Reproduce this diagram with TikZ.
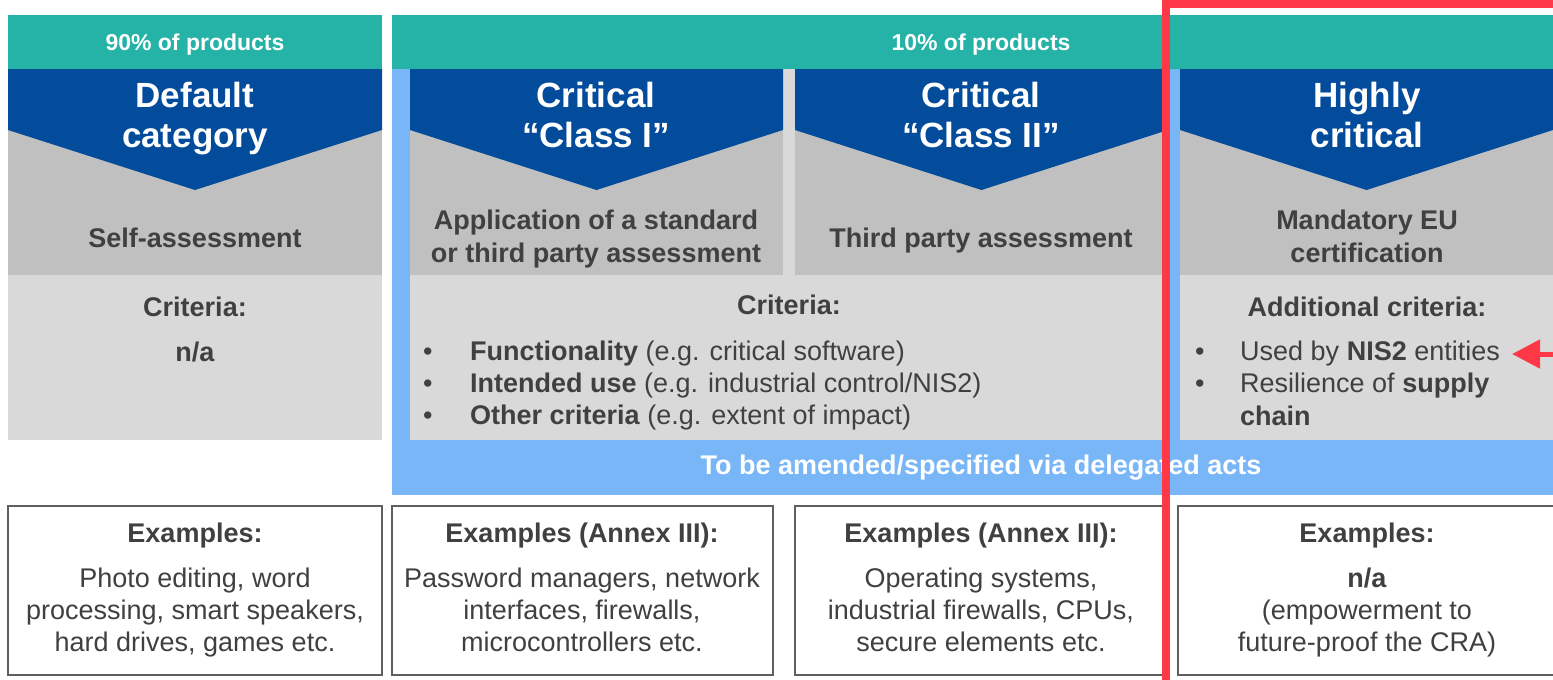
\documentclass[tikz,border=0pt]{standalone}
\usepackage{fontspec}
\setmainfont{Liberation Sans}
\usetikzlibrary{arrows.meta}

\definecolor{craTeal}{HTML}{25B3A7}
\definecolor{craBlue}{HTML}{034B9B}
\definecolor{craSky}{HTML}{78B6F8}
\definecolor{craGrey}{HTML}{C0C0C0}
\definecolor{craLight}{HTML}{D9D9D9}
\definecolor{craText}{HTML}{404040}
\definecolor{craBox}{HTML}{5F5F5F}
\definecolor{craRed}{HTML}{FF3848}

\tikzset{
  band/.style={inner sep=0pt, text=white, font=\fontsize{23}{28}\selectfont\bfseries},
  cat/.style={inner sep=0pt, text=white, align=center, font=\fontsize{35}{40}\selectfont\bfseries},
  assess/.style={inner sep=0pt, text=craText, align=center, font=\fontsize{27}{33}\selectfont\bfseries},
  crit/.style={inner sep=0pt, text=craText, align=center, font=\fontsize{27}{32}\selectfont\bfseries},
  item/.style={inner sep=0pt, text=craText, anchor=west, font=\fontsize{27}{32}\selectfont},
  extext/.style={inner sep=0pt, text=craText, align=center, font=\fontsize{27}{32}\selectfont},
  exbox/.style={draw=craBox, line width=1.6pt}
}
\newcommand{\blt}[1]{\makebox[#1][l]{\textbullet}}

\begin{document}
\begin{tikzpicture}[x=1pt,y=-1pt]
\useasboundingbox (0,0) rectangle (1553,680);
\fill[white] (0,0) rectangle (1553,680);

\fill[craTeal] (8,15) rectangle (382,69);
\fill[craTeal] (392,15) rectangle (1553,69);
\fill[craSky] (392,69) rectangle (1553,495);
\fill[craGrey] (8,69) rectangle (382,275);
\fill[craLight] (8,275) rectangle (382,440);
\fill[craLight] (410,69) rectangle (1168,440);
\fill[craGrey] (410,69) rectangle (783,275);
\fill[craGrey] (795,69) rectangle (1168,275);
\fill[craGrey] (1180,69) rectangle (1553,275);
\fill[craLight] (1180,275) rectangle (1553,440);

\fill[craBlue] (8,69) -- (382,69) -- (382,130) -- (195,190) -- (8,130) -- cycle;
\fill[craBlue] (410,69) -- (783,69) -- (783,130) -- (596.5,190) -- (410,130) -- cycle;
\fill[craBlue] (795,69) -- (1168,69) -- (1168,130) -- (981.5,190) -- (795,130) -- cycle;
\fill[craBlue] (1180,69) -- (1553,69) -- (1553,130) -- (1366.5,190) -- (1180,130) -- cycle;

\node[band] (p90) at (195,45) {90\% of products};
\node[band] (p10) at (981,45) {10\% of products};

\node[cat] (def) at (195,119) {Default\\category};
\node[cat] (cls1) at (596,115) {Critical\\“Class I”};
\node[cat] (cls2) at (981,115) {Critical\\“Class II”};
\node[cat] (high) at (1367,115) {Highly\\critical};

\node[assess] (self) at (195,238) {Self-assessment};
\node[assess] (std) at (596,239) {Application of a standard\\or third party assessment};
\node[assess] (third) at (981,240.5) {Third party assessment};
\node[assess] (cert) at (1367,236.5) {Mandatory EU\\certification};

\node[crit] (crit1) at (195,307) {Criteria:};
\node[crit] (na1) at (195,352) {n/a};
\node[crit] (crit2) at (789,305) {Criteria:};
\node[crit] (crit3) at (1367,307) {Additional criteria:};

\node[item] (func) at (423,354) {\blt{47pt}\textbf{Functionality} (e.g. critical software)};
\node[item] (use) at (423,386) {\blt{47pt}\textbf{Intended use} (e.g. industrial control/NIS2)};
\node[item] (other) at (423,418) {\blt{47pt}\textbf{Other criteria} (e.g. extent of impact)};
\node[item] (nis) at (1195,354) {\blt{45pt}Used by \textbf{NIS2} entities};
\node[item] (res) at (1195,386) {\blt{45pt}Resilience of \textbf{supply}};
\node[item] (chain) at (1240,416) {\textbf{chain}};

\node[band, font=\fontsize{27}{32}\selectfont\bfseries] (deleg) at (981,468) {To be amended/specified via delegated acts};

\draw[exbox] (8,506) rectangle (382,675);
\draw[exbox] (392,506) rectangle (773,675);
\draw[exbox] (795,506) rectangle (1168,675);
\draw[exbox] (1178,506) rectangle (1558,675);

\node[crit] (ex1) at (195,535.5) {Examples:};
\node[crit] (ex2) at (582,535.5) {Examples (Annex III):};
\node[crit] (ex3) at (981,535.5) {Examples (Annex III):};
\node[crit] (ex4) at (1367,535.5) {Examples:};

\node[extext] (body1) at (195,612.5) {Photo editing, word\\processing, smart speakers,\\hard drives, games etc.};
\node[extext] (body2) at (582,610) {Password managers, network\\interfaces, firewalls,\\microcontrollers etc.};
\node[extext] (body3) at (981,610) {Operating systems,\\industrial firewalls, CPUs,\\secure elements etc.};
\node[extext] (body4) at (1367,612.5) {\textbf{n/a}\\(empowerment to\\future-proof the CRA)};

\draw[craRed, line width=8pt] (1166,690) -- (1166,4) -- (1560,4);
\coordinate (tail) at (1558,354);
\draw[craRed, line width=5pt, -{Triangle[length=28pt,width=28pt]}] (tail) -- ([xshift=12pt]nis.east);
\end{tikzpicture}
\end{document}
